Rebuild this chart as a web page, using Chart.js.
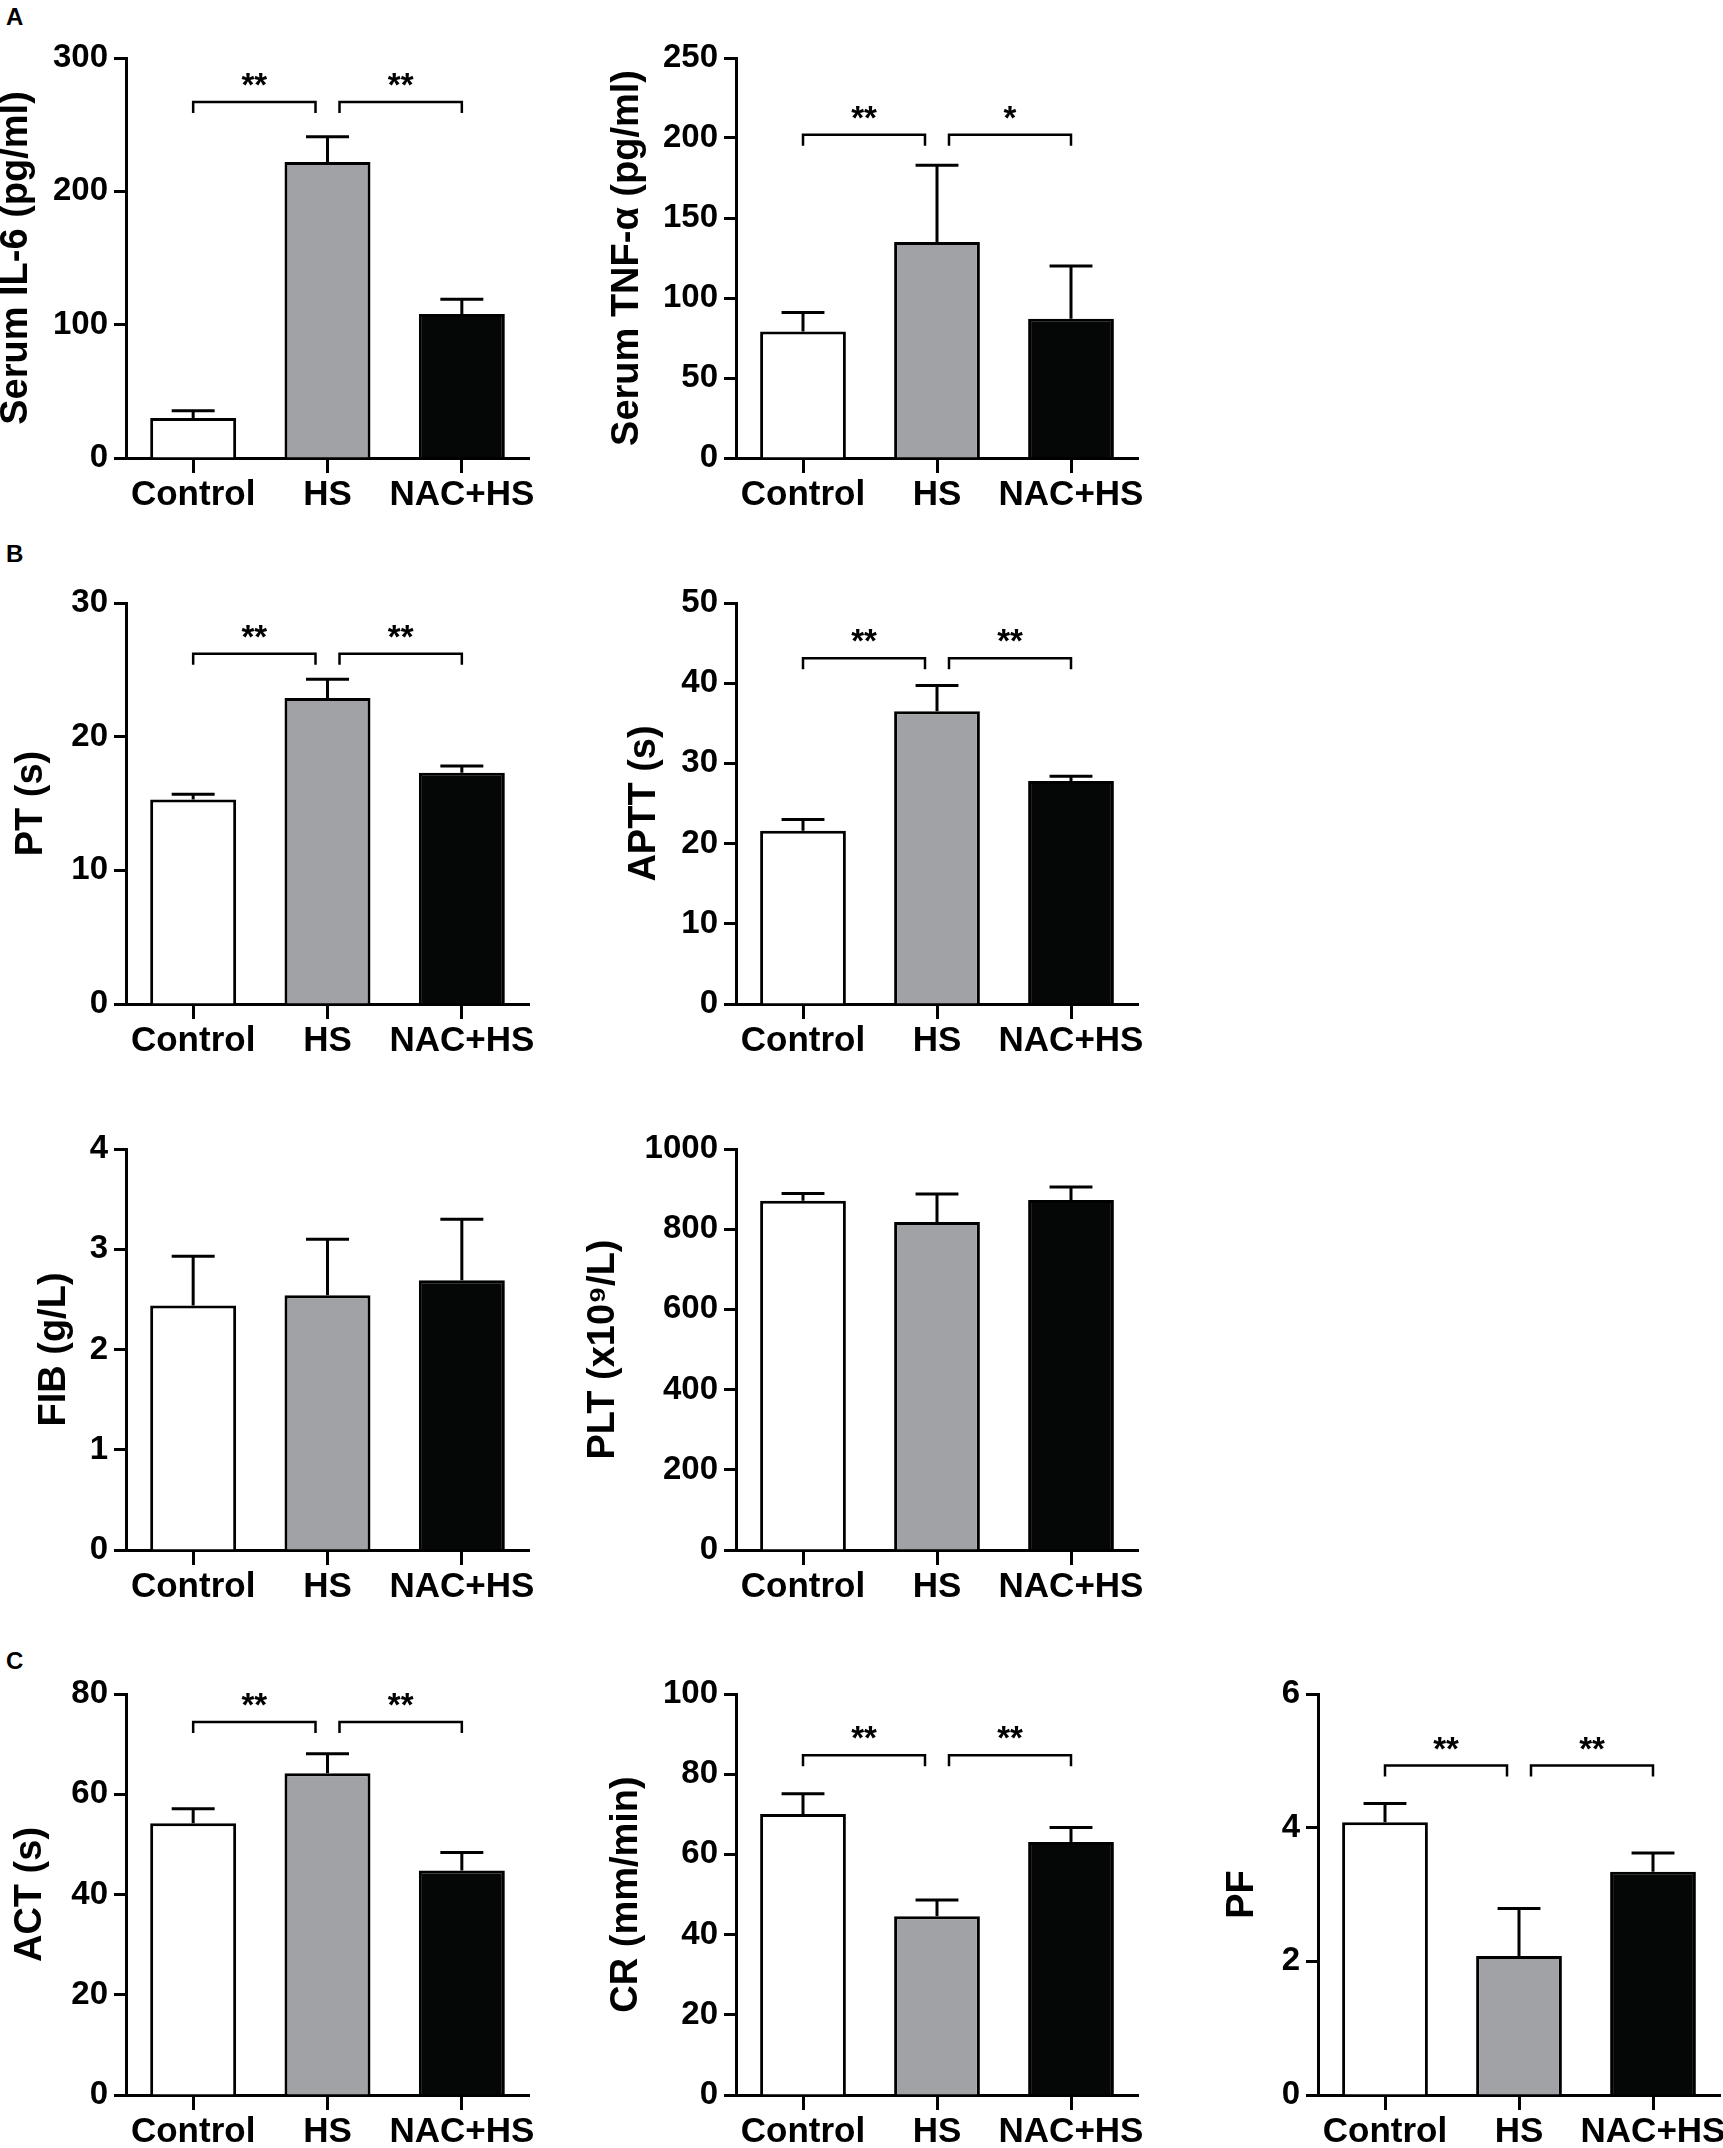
<!DOCTYPE html>
<html>
<head>
<meta charset="utf-8">
<script src="https://cdn.jsdelivr.net/npm/chart.js@4.4.1/dist/chart.umd.min.js"></script>
<style>
  html, body { margin: 0; padding: 0; background: #fff; }
  body { width: 1723px; height: 2148px; position: relative; overflow: hidden; }
  canvas { position: absolute; }
  .tag { position: absolute; font: bold 24px/24px "Liberation Sans", Arial, sans-serif; color: #000; }
</style>
</head>
<body>
<div class="tag" style="left:6px;top:5px">A</div>
<div class="tag" style="left:6px;top:542px">B</div>
<div class="tag" style="left:6px;top:1649px">C</div>

<script>
const groups = ['Control', 'HS', 'NAC+HS'];

// mean and SEM for each panel
const il6Mean = [30, 222, 108];
const il6Sem = [5.5, 19, 11];
const tnfMean = [79, 135, 87];
const tnfSem = [12, 48, 33];
const ptMean = [15.3, 22.9, 17.3];
const ptSem = [0.4, 1.4, 0.5];
const apttMean = [21.6, 36.5, 27.8];
const apttSem = [1.4, 3.2, 0.6];
const fibMean = [2.44, 2.54, 2.69];
const fibSem = [0.49, 0.56, 0.61];
const pltMean = [871, 818, 873];
const pltSem = [18, 70, 32];
const actMean = [54.2, 64.2, 44.8];
const actSem = [2.9, 3.9, 3.6];
const crMean = [70.1, 44.6, 63.1];
const crSem = [5.0, 4.0, 3.6];
const pfMean = [4.08, 2.08, 3.34];
const pfSem = [0.28, 0.71, 0.28];

// significance marks: [Control vs HS, HS vs NAC+HS] and the level of the bracket
const il6Sig = ['**', '**'];
const tnfSig = ['**', '*'];
const ptSig = ['**', '**'];
const apttSig = ['**', '**'];
const actSig = ['**', '**'];
const crSig = ['**', '**'];
const pfSig = ['**', '**'];

const il6Bracket = 267;
const tnfBracket = 202;
const ptBracket = 26.2;
const apttBracket = 43.1;
const actBracket = 74.4;
const crBracket = 84.7;
const pfBracket = 4.93;

const FONT = '"Liberation Sans", Arial, sans-serif';
const barColors = ['#ffffff', '#a1a2a6', '#050707'];

// error bars (upper SEM only) + significance brackets
const annotations = {
  id: 'annotations',
  afterDatasetsDraw(chart, args, opts) {
    const { ctx } = chart;
    const yScale = chart.scales.y;
    const bars = chart.getDatasetMeta(0).data;
    ctx.save();
    ctx.strokeStyle = '#000';
    ctx.lineCap = 'butt';
    ctx.lineWidth = 3;
    bars.forEach((bar, i) => {
      const top = yScale.getPixelForValue(opts.mean[i] + opts.sem[i]);
      const half = bar.width / 4;
      ctx.beginPath();
      ctx.moveTo(bar.x, bar.y);
      ctx.lineTo(bar.x, top);
      ctx.moveTo(bar.x - half, top);
      ctx.lineTo(bar.x + half, top);
      ctx.stroke();
    });

    if (opts.sig) {
      const by = yScale.getPixelForValue(opts.bracket);
      const drop = 11;
      const gap = 12;
      const pairs = [
        [bars[0].x, bars[1].x - gap],
        [bars[1].x + gap, bars[2].x],
      ];
      ctx.lineWidth = 2.5;
      ctx.fillStyle = '#000';
      ctx.font = 'bold 33px ' + FONT;
      ctx.textAlign = 'center';
      ctx.textBaseline = 'alphabetic';
      pairs.forEach(([x1, x2], k) => {
        ctx.beginPath();
        ctx.moveTo(x1, by + drop);
        ctx.lineTo(x1, by);
        ctx.lineTo(x2, by);
        ctx.lineTo(x2, by + drop);
        ctx.stroke();
        ctx.fillText(opts.sig[k], (x1 + x2) / 2, by - 6);
      });
    }
    ctx.restore();
  },
};

function makePanel(p) {
  const padL = 160, padT = 40, padR = 60, padB = 90;
  const w = p.right - p.left;
  const h = p.bottom - p.top;
  const canvas = document.createElement('canvas');
  canvas.width = w + padL + padR;
  canvas.height = h + padT + padB;
  canvas.style.left = (p.left - padL) + 'px';
  canvas.style.top = (p.top - padT) + 'px';
  document.body.appendChild(canvas);

  const titleHalf = 38 * 1.2 / 2;
  const axisLeft = padL - p.titleOffset - titleHalf;

  new Chart(canvas, {
    type: 'bar',
    data: {
      labels: groups,
      datasets: [{
        data: p.mean,
        backgroundColor: barColors,
        borderColor: '#000',
        borderWidth: 3,
        categoryPercentage: 1,
        barPercentage: 0.64,
      }],
    },
    plugins: [annotations],
    options: {
      responsive: false,
      animation: false,
      devicePixelRatio: 1,
      layout: { padding: { left: axisLeft, top: padT, right: padR, bottom: 0 } },
      plugins: {
        legend: { display: false },
        tooltip: { enabled: false },
        annotations: { mean: p.mean, sem: p.sem, sig: p.sig, bracket: p.bracket },
      },
      scales: {
        x: {
          offset: true,
          afterFit(scale) { scale.height = padB; },
          border: { display: true, color: '#000', width: 3 },
          grid: {
            display: true, offset: false, drawOnChartArea: false,
            drawTicks: true, tickLength: 15, tickWidth: 3, tickColor: '#000',
          },
          ticks: {
            color: '#000', padding: 1, autoSkip: false, maxRotation: 0, minRotation: 0,
            font: { family: FONT, size: 35, weight: 'bold' },
          },
        },
        y: {
          min: 0,
          max: p.max,
          afterFit(scale) { scale.width = padL - axisLeft; },
          border: { display: true, color: '#000', width: 3 },
          grid: {
            display: true, drawOnChartArea: false,
            drawTicks: true, tickLength: 12, tickWidth: 3, tickColor: '#000',
          },
          ticks: {
            stepSize: p.step, color: '#000', padding: 6,
            callback: (v) => String(v),
            font: { family: FONT, size: 33, weight: 'bold' },
          },
          title: {
            display: true, text: p.title, color: '#000', padding: 0,
            font: { family: FONT, size: 38, weight: 'bold' },
          },
        },
      },
    },
  });
}

makePanel({ left: 126, right: 529, top: 58, bottom: 458, max: 300, step: 100,
  title: 'Serum IL-6 (pg/ml)', titleOffset: 109, mean: il6Mean, sem: il6Sem, sig: il6Sig, bracket: il6Bracket });
makePanel({ left: 736, right: 1138, top: 58, bottom: 458, max: 250, step: 50,
  title: 'Serum TNF-α (pg/ml)', titleOffset: 108, mean: tnfMean, sem: tnfSem, sig: tnfSig, bracket: tnfBracket });
makePanel({ left: 126, right: 529, top: 603, bottom: 1004, max: 30, step: 10,
  title: 'PT (s)', titleOffset: 94, mean: ptMean, sem: ptSem, sig: ptSig, bracket: ptBracket });
makePanel({ left: 736, right: 1138, top: 603, bottom: 1004, max: 50, step: 10,
  title: 'APTT (s)', titleOffset: 91, mean: apttMean, sem: apttSem, sig: apttSig, bracket: apttBracket });
makePanel({ left: 126, right: 529, top: 1149, bottom: 1550, max: 4, step: 1,
  title: 'FIB (g/L)', titleOffset: 71, mean: fibMean, sem: fibSem });
makePanel({ left: 736, right: 1138, top: 1149, bottom: 1550, max: 1000, step: 200,
  title: 'PLT (x10⁹/L)', titleOffset: 132, mean: pltMean, sem: pltSem });
makePanel({ left: 126, right: 529, top: 1694, bottom: 2095, max: 80, step: 20,
  title: 'ACT (s)', titleOffset: 95, mean: actMean, sem: actSem, sig: actSig, bracket: actBracket });
makePanel({ left: 736, right: 1138, top: 1694, bottom: 2095, max: 100, step: 20,
  title: 'CR (mm/min)', titleOffset: 109, mean: crMean, sem: crSem, sig: crSig, bracket: crBracket });
makePanel({ left: 1318, right: 1720, top: 1694, bottom: 2095, max: 6, step: 2,
  title: 'PF', titleOffset: 75, mean: pfMean, sem: pfSem, sig: pfSig, bracket: pfBracket });
</script>
</body>
</html>
